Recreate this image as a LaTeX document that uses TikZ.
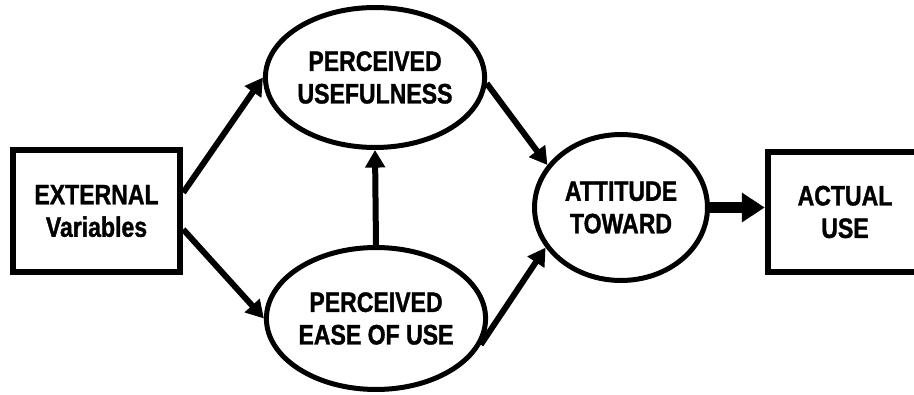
\documentclass[tikz,border=0pt]{standalone}
\usepackage{fontspec}
\setmainfont{Liberation Sans}
\newfontfamily\diagfont[FakeStretch=0.82,FakeBold=1.2]{Liberation Sans}
\usetikzlibrary{shapes.geometric,arrows.meta}

\begin{document}
\begin{tikzpicture}[x=0.02cm,y=-0.02cm,
	box/.style={draw,line width=0.13cm,minimum width=3.34cm,minimum height=2.44cm,align=center,font=\diagfont\fontsize{16}{18.5}\selectfont\bfseries},
	oval/.style={draw,ellipse,line width=0.1cm,inner sep=0pt,align=center,font=\diagfont\fontsize{16}{18.5}\selectfont\bfseries},
	link/.style={line width=0.12cm,-{Triangle[length=10pt,width=11pt]}}]
	\clip (0,0) rectangle (914,395);

	\node[box] (ext) at (96.5,211) {EXTERNAL\\Variables};
	\node[oval,minimum width=3.62cm,minimum height=2.8cm] (use) at (375,77.5) {PERCEIVED\\USEFULNESS};
	\node[oval,minimum width=3.54cm,minimum height=2.84cm] (ease) at (376,318.5) {PERCEIVED\\EASE OF USE};
	\node[oval,minimum width=3.46cm,minimum height=2.92cm] (att) at (621,207.5) {ATTITUDE\\TOWARD};
	\node[box,minimum width=3.08cm,minimum height=2.4cm] (act) at (845,212) {ACTUAL\\USE};

	\draw[link] (ext.12) -- (use.west);
	\draw[link] (ext.-12) -- (ease.west);
	\draw[link] (ease.north) -- (use.south);
	\draw[link] (use.-3) -- (att.150);
	\draw[link] (ease.-14) -- (att.208);
	\draw[line width=0.24cm,-{Triangle[length=13pt,width=16pt]}] (att.east) -- (act.west |- att.east);
\end{tikzpicture}
\end{document}
